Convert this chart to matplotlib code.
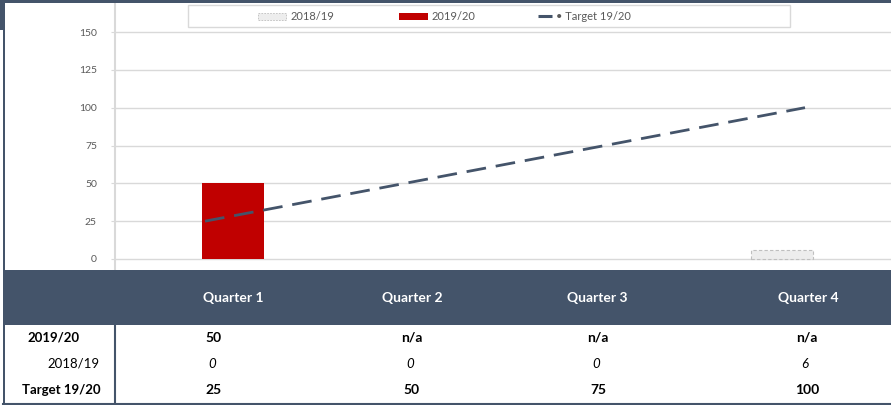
import numpy as np
from matplotlib import pyplot as plt
from matplotlib.patches import Rectangle

# chart data
quarters = ["Quarter 1", "Quarter 2", "Quarter 3", "Quarter 4"]
vals_1920 = [50, np.nan, np.nan, np.nan]   # 2019/20 (n/a = no data yet)
vals_1819 = [0, 0, 0, 6]                    # 2018/19
target = [25, 50, 75, 100]                  # Target 19/20
yticks = [0, 25, 50, 75, 100, 125, 150]

dark = "#44546A"
red = "#C00000"
grey_txt = "#595959"
grid_c = "#D9D9D9"

plt.rcParams['font.family'] = ['Lato', 'DejaVu Sans']

W, H = 891, 405
fig = plt.figure(figsize=(W / 100, H / 100), dpi=100)

def px(x0, y0, x1, y1):
    # pixel box (top-left origin) -> figure fraction rect
    return [x0 / W, 1 - y1 / H, (x1 - x0) / W, (y1 - y0) / H]

# ---- chart area ----
ax = fig.add_axes(px(115, 3, W, 270))
x = np.arange(len(quarters))
ppu = (259 - 32) / 150.0  # pixels per unit on y
ax.set_ylim(-(270 - 259) / ppu, (259 - 3) / ppu)
ax.set_xlim((115 - 233) / 183.0, (W - 233) / 183.0)

bw = 62 / 183.0
# zero-height bars get no outline (Excel draws nothing for them)
ax.bar(x, vals_1819, width=bw, color="#EDEDED",
       edgecolor=["#BFBFBF" if v > 0 else "none" for v in vals_1819],
       linestyle=(0, (3, 2)), linewidth=0.8, zorder=2)
ax.bar(x, np.nan_to_num(vals_1920), width=bw, color=red, zorder=3)

# target line sits on its own category spacing
xt = -0.153 + x * (600 / 3 / 183.0)
ax.plot(xt, target, color=dark, lw=2.0, dashes=(7.1, 3.55), zorder=4,
        solid_capstyle="butt")

ax.set_yticks(yticks)
ax.set_yticklabels([str(v) for v in yticks], color=grey_txt, fontsize=7.5)
ax.set_xticks([])
ax.yaxis.grid(True, color=grid_c, lw=1.0, zorder=0)
ax.set_axisbelow(True)
for s in ["top", "right", "bottom"]:
    ax.spines[s].set_visible(False)
ax.spines["left"].set_color(grid_c)
ax.spines["left"].set_linewidth(1.5)
ax.tick_params(axis="y", length=3, color=grid_c, pad=10)

# ---- overlay: frame, legend, table ----
ov = fig.add_axes([0, 0, 1, 1], zorder=5)
ov.set_xlim(0, W)
ov.set_ylim(H, 0)
ov.axis("off")
ov.patch.set_alpha(0)

ov.add_patch(Rectangle((0, 0), W, 3, color=dark, lw=0))
ov.add_patch(Rectangle((0, 0), 4.5, 30, color=dark, lw=0))
ov.add_patch(Rectangle((3, 0), 2, H, color=dark, lw=0))

# legend
ov.add_patch(Rectangle((188, 5), 602, 22, facecolor="white", edgecolor=grid_c, lw=1))
ov.add_patch(Rectangle((258, 12.5), 28, 7, facecolor="#EDEDED", edgecolor="#BFBFBF",
                       lw=0.6, linestyle=(0, (2, 1.5))))
ov.text(291, 16, "2018/19", color=grey_txt, fontsize=8, va="center")
ov.add_patch(Rectangle((399, 12.5), 29, 7, color=red, lw=0))
ov.text(432, 16, "2019/20", color=grey_txt, fontsize=8, va="center")
ov.plot([538, 552], [16, 16], color=dark, lw=2.2, solid_capstyle="butt")
ov.text(556, 16, "\u2022 Target 19/20", color=grey_txt, fontsize=8, va="center")

# table header band
ov.add_patch(Rectangle((4, 270), W - 4, 55, color=dark, lw=0))
head_x = [233, 412, 597, 808]
for hx, q in zip(head_x, quarters):
    ov.text(hx, 297.5, q, color="white", fontsize=10, fontweight="bold",
            ha="center", va="center")

# table body
ov.plot([115, 115], [325, H], color=dark, lw=1.5)
ov.plot([3, W], [403.5, 403.5], color=dark, lw=1.5)

col_x = [214, 412, 598, 807]
row_y = [338, 364, 390]
ov.text(27, row_y[0], "2019/20", fontsize=9.5, fontweight="bold", va="center")
ov.text(47, row_y[1], "2018/19", fontsize=9.5, va="center")
ov.text(22, row_y[2], "Target 19/20", fontsize=9.5, fontweight="bold", va="center")
for cx, a, b, t in zip(col_x, vals_1920, vals_1819, target):
    ov.text(cx, row_y[0], "n/a" if np.isnan(a) else f"{a:g}", fontsize=10,
            fontweight="bold", ha="center", va="center")
    ov.text(cx - 2, row_y[1], f"{b:g}", fontsize=9.5, style="italic",
            ha="center", va="center")
    ov.text(cx, row_y[2], f"{t:g}", fontsize=10, fontweight="bold",
            ha="center", va="center")

fig.savefig("out.png", dpi=100)
